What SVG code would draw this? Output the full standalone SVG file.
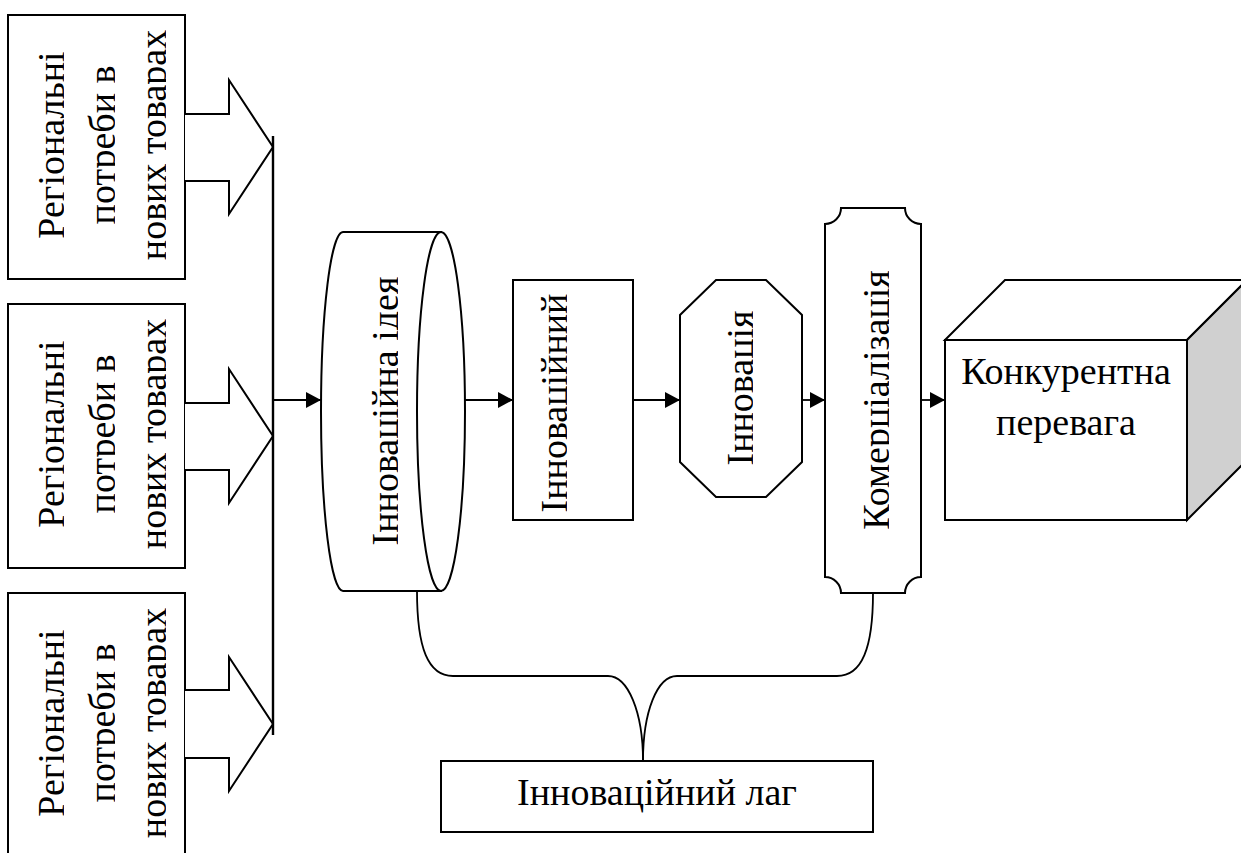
<svg xmlns="http://www.w3.org/2000/svg" width="1241" height="853" viewBox="0 0 1241 853">
  <style>
    .shape { fill: #ffffff; stroke: #000000; stroke-width: 2; }
    .open { fill: none; stroke: #000000; stroke-width: 2.4; }
    .conn { fill: none; stroke: #000000; stroke-width: 1.8; }
    text { font-family: 'Liberation Serif', 'Times New Roman', serif; font-size: 38px; fill: #000000; text-anchor: middle; }
  </style>
  <defs>
    <marker id="arrowhead" viewBox="0 0 15 16" refX="15" refY="8" markerWidth="15" markerHeight="16" markerUnits="userSpaceOnUse" orient="auto">
      <path d="M0,0 L15,8 L0,16 Z" fill="#000000"/>
    </marker>
    <!-- cuts off descenders below the baseline of rotated labels -->
    <clipPath id="baselineCut" clipPathUnits="userSpaceOnUse">
      <rect x="-600" y="-60" width="1200" height="60"/>
    </clipPath>
  </defs>

  <!-- Left column: regional needs, each with a block arrow -->
  <g id="needs1">
    <rect class="shape" x="8" y="15" width="177" height="264"/>
    <polyline class="shape" points="185,114 229,114 229,80 273,147 229,214 229,181 185,181"/>
    <text transform="translate(64,145) rotate(-90)" clip-path="url(#baselineCut)">Регіональні</text>
    <text transform="translate(115,145) rotate(-90)" clip-path="url(#baselineCut)">потреби в</text>
    <text transform="translate(166,145) rotate(-90)" clip-path="url(#baselineCut)">нових товарах</text>
  </g>

  <g id="needs2">
    <rect class="shape" x="8" y="304" width="177" height="264"/>
    <polyline class="shape" points="185,403 229,403 229,369 273,436 229,503 229,470 185,470"/>
    <text transform="translate(64,434) rotate(-90)" clip-path="url(#baselineCut)">Регіональні</text>
    <text transform="translate(115,434) rotate(-90)" clip-path="url(#baselineCut)">потреби в</text>
    <text transform="translate(166,434) rotate(-90)" clip-path="url(#baselineCut)">нових товарах</text>
  </g>

  <g id="needs3">
    <rect class="shape" x="8" y="593" width="177" height="264"/>
    <polyline class="shape" points="185,690 229,690 229,657 273,724 229,791 229,758 185,758"/>
    <text transform="translate(64,723) rotate(-90)" clip-path="url(#baselineCut)">Регіональні</text>
    <text transform="translate(115,723) rotate(-90)" clip-path="url(#baselineCut)">потреби в</text>
    <text transform="translate(166,723) rotate(-90)" clip-path="url(#baselineCut)">нових товарах</text>
  </g>

  <!-- Innovation idea: horizontal cylinder -->
  <g id="idea">
    <path class="shape" d="M343,232 L441,232 L441,591 L343,591 A22,179.5 0 0 1 343,232 Z"/>
    <ellipse class="shape" cx="441" cy="411.5" rx="24" ry="179.5"/>
    <path class="shape" style="fill:none" d="M343,232 L441,232 M343,591 L441,591"/>
    <text transform="translate(398,411) rotate(-90)" clip-path="url(#baselineCut)">Інноваційна ідея</text>
  </g>

  <!-- Innovation process -->
  <g id="process">
    <rect class="shape" x="513" y="280" width="120" height="240"/>
    <text transform="translate(567,403) rotate(-90)" clip-path="url(#baselineCut)">Інноваційний</text>
  </g>

  <!-- Innovation: octagon -->
  <g id="innovation">
    <polygon class="shape" points="716,280 766,280 802,315 802,462 766,497 716,497 680,462 680,315"/>
    <text transform="translate(753,388) rotate(-90)" clip-path="url(#baselineCut)">Інновація</text>
  </g>

  <!-- Commercialisation: plaque with concave corners -->
  <g id="commercialisation">
    <path class="shape" d="M841,208 H905 A16,16 0 0 0 921,224 V577 A16,16 0 0 0 905,593 H841 A16,16 0 0 0 825,577 V224 A16,16 0 0 0 841,208 Z"/>
    <text transform="translate(889,400) rotate(-90)" clip-path="url(#baselineCut)">Комерціалізація</text>
  </g>

  <!-- Competitive advantage: cube -->
  <g id="advantage">
    <polygon class="shape" points="945,340 1005,280 1247,280 1187,340"/>
    <polygon class="shape" points="1187,340 1247,280 1247,460 1187,520" style="fill:#d0d0d0"/>
    <rect class="shape" x="945" y="340" width="242" height="180"/>
    <text x="1066" y="384">Конкурентна</text>
    <text x="1066" y="435">перевага</text>
  </g>

  <!-- Innovation lag -->
  <g id="lag">
    <rect class="shape" x="441" y="761" width="432" height="71"/>
    <text x="657" y="805">Інноваційний лаг</text>
  </g>

  <!-- Connectors -->
  <g id="connectors">
    <line class="open" x1="273" y1="136" x2="273" y2="735"/>
    <line class="conn" x1="273" y1="400" x2="321" y2="400" marker-end="url(#arrowhead)"/>
    <line class="conn" x1="465" y1="400" x2="513" y2="400" marker-end="url(#arrowhead)"/>
    <line class="conn" x1="633" y1="400" x2="680" y2="400" marker-end="url(#arrowhead)"/>
    <line class="conn" x1="802" y1="400" x2="825" y2="400" marker-end="url(#arrowhead)"/>
    <line class="conn" x1="921" y1="400" x2="945" y2="400" marker-end="url(#arrowhead)"/>
    <!-- brace joining idea and commercialisation to the lag -->
    <path class="conn" d="M417,591 C417,648 428,676 453,676 L608,676 C628,676 643,712 643,761"/>
    <path class="conn" d="M873,593 C873,648 862,676 837,676 L677,676 C657,676 643,712 643,761"/>
  </g>
</svg>
